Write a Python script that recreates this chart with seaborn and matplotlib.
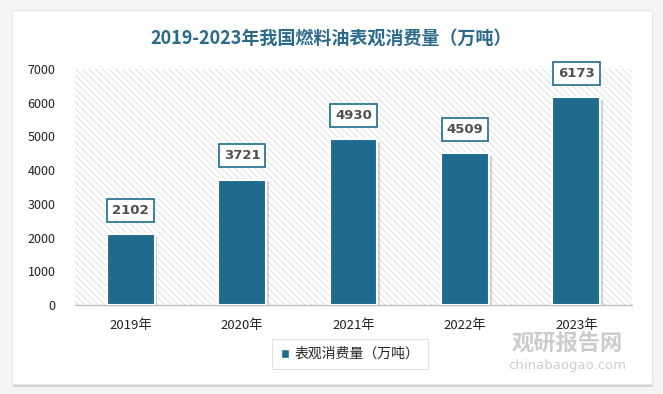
import pandas as pd
import seaborn as sns
import matplotlib.pyplot as plt
import matplotlib.patheffects as pe
from matplotlib.patches import Rectangle, FancyBboxPatch

years = ['2019年', '2020年', '2021年', '2022年', '2023年']
consumption = [2102, 3721, 4930, 4509, 6173]
series_name = '表观消费量（万吨）'
title = '2019-2023年我国燃料油表观消费量（万吨）'

bar_color = '#1f6b8e'

sns.set_style('white')
plt.rcParams['font.family'] = ['Noto Sans CJK SC', 'DejaVu Sans']
plt.rcParams['hatch.linewidth'] = 0.6
plt.rcParams['hatch.color'] = '#d9d9d9'

fig = plt.figure(figsize=(6.63, 3.94), dpi=100)
fig.patch.set_facecolor('#f4f4f4')

# card background with a soft shadow
card = FancyBboxPatch((12 / 663, 10 / 394), 640 / 663, 374 / 394,
                      boxstyle='square,pad=0', transform=fig.transFigure,
                      facecolor='white', edgecolor='#e6e6e6', linewidth=0.8, zorder=-5,
                      path_effects=[pe.SimplePatchShadow(offset=(1, -2), shadow_rgbFace='#cfcfcf', alpha=0.8), pe.Normal()])
fig.patches.append(card)

ax = fig.add_axes([75 / 663, 1 - 305 / 394, 557 / 663, 236 / 394])
ax.set_facecolor('none')

# hatched plot area
ax.add_patch(Rectangle((0, 0), 1, 1, transform=ax.transAxes, facecolor='white',
                       hatch='\\\\\\\\\\', edgecolor='#d9d9d9', linewidth=0, zorder=0))

df = pd.DataFrame({'year': years, 'value': consumption})
sns.barplot(data=df, x='year', y='value', color=bar_color, width=0.43,
            edgecolor='white', linewidth=1.5, saturation=1, ax=ax, zorder=3)

for bar in ax.patches[1:]:
    bar.set_path_effects([pe.SimplePatchShadow(offset=(2, -2), shadow_rgbFace='#888888', alpha=0.35), pe.Normal()])

for i, v in enumerate(consumption):
    ax.annotate(str(v), (i, v), xytext=(0, 17), textcoords='offset points',
                ha='center', va='center', fontsize=9.5, fontweight='bold', color='#505050',
                family=['DejaVu Sans'],
                bbox=dict(boxstyle='square,pad=0.38', facecolor='white', edgecolor=bar_color, linewidth=1.2),
                zorder=5)

ax.set_ylim(0, 7000)
ax.set_xlim(-0.5, 4.5)
ax.set_yticks(range(0, 7001, 1000))
ax.tick_params(axis='y', labelsize=9, colors='#222222', length=0, pad=14)
ax.tick_params(axis='x', labelsize=9.5, colors='#222222', length=0, pad=10)
ax.set_xlabel('')
ax.set_ylabel('')
for s in ['left', 'right', 'top']:
    ax.spines[s].set_visible(False)
ax.spines['bottom'].set_color('#bfbfbf')
ax.spines['bottom'].set_linewidth(1)

fig.text(0.5, 1 - 38 / 394, title, ha='center', va='center', fontsize=13,
         fontweight='bold', color='#2b6a8a')

# legend
handle = Rectangle((0, 0), 1, 1, facecolor=bar_color)
leg = fig.legend([handle], [series_name], loc='center', bbox_to_anchor=(350 / 663, 1 - 354 / 394),
                 frameon=True, fontsize=10, handlelength=0.6, handleheight=0.6, handletextpad=0.4,
                 borderpad=0.6, fancybox=False)
leg.get_frame().set_edgecolor('#d9d9d9')
leg.get_frame().set_linewidth(0.8)

# watermark
fig.text(567 / 663, 1 - 344 / 394, '观研报告网', ha='center', va='center', fontsize=16,
         fontweight='bold', color='#c4c4c4', alpha=0.85, zorder=-1)
fig.text(567 / 663, 1 - 365 / 394, 'chinabaogao.com', ha='center', va='center', fontsize=9.5,
         color='#c4c4c4', alpha=0.85, family=['DejaVu Sans'], zorder=-1)

fig.savefig('out.png', dpi=100)
